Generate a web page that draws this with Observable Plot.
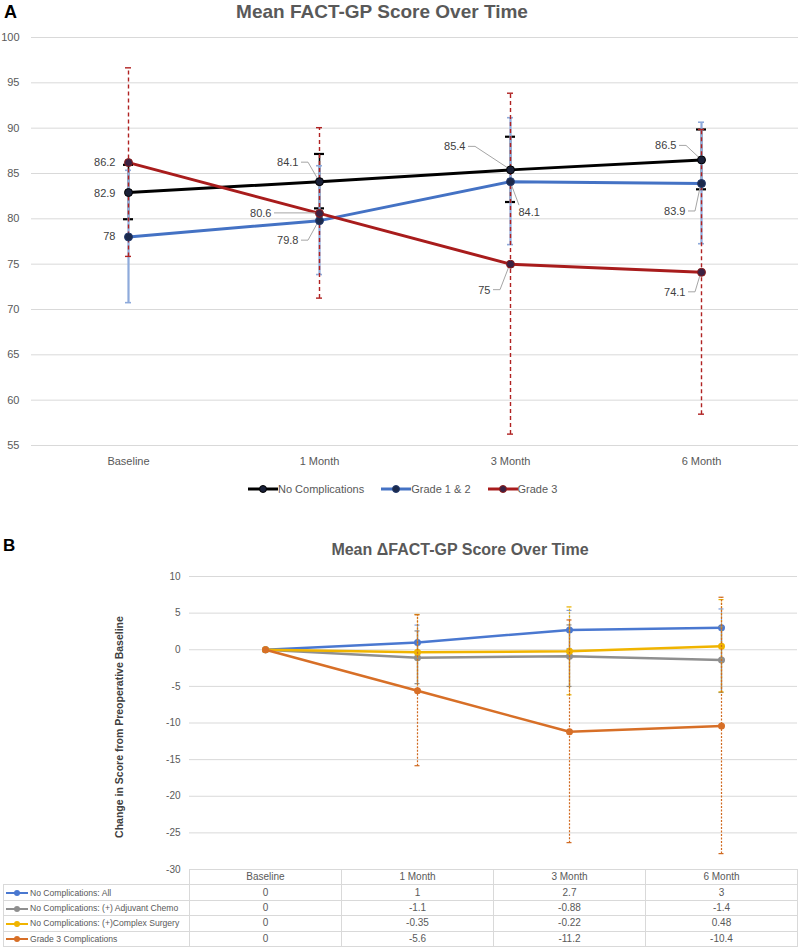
<!DOCTYPE html>
<html><head><meta charset="utf-8">
<script src="https://cdn.jsdelivr.net/npm/d3@7"></script>
<script src="https://cdn.jsdelivr.net/npm/@observablehq/plot@0.6"></script>
<style>
body{margin:0;background:#fff;font-family:"Liberation Sans",Arial,sans-serif;}
#page{position:relative;width:800px;height:950px;overflow:hidden;background:#fff;}
.abs{position:absolute;}
.panel{font-weight:bold;color:#000;}
.title{font-weight:bold;color:#595959;text-align:center;white-space:nowrap;}
#legendA{display:flex;align-items:center;font-size:11px;color:#595959;white-space:nowrap;}
#legendA .item{display:flex;align-items:center;margin-right:17px;}
#tableB{border-collapse:collapse;table-layout:fixed;width:794px;font-size:10px;color:#595959;}
#tableB td{border:1px solid #d9d9d9;height:14.4px;line-height:14px;padding:0;text-align:center;white-space:nowrap;overflow:hidden;}
#tableB td.lg{text-align:left;padding-left:2px;font-size:8.6px;}
#tableB td.blank{border:none;}
</style></head><body><div id="page"></div>
<script>
// ---------- DATA ----------
const times = ["Baseline", "1 Month", "3 Month", "6 Month"];

// Panel A: Mean FACT-GP score (mean and error half-width)
const seriesA = ["No Complications", "Grade 1 & 2", "Grade 3"];
const meanNoComplications = [82.9, 84.1, 85.4, 86.5];
const errNoComplications  = [3.0, 3.0, 3.6, 3.3];
const meanGrade12 = [78, 79.8, 84.1, 83.9];
const errGrade12  = [7.3, 6.0, 7.0, 6.7];
const meanGrade3  = [86.2, 80.6, 75, 74.1];
const errGrade3   = [10.4, 9.4, 18.8, 15.7];
const ticksA = [55, 60, 65, 70, 75, 80, 85, 90, 95, 100];

// Panel B: Mean change in FACT-GP from baseline
const seriesB = ["No Complications: All", "No Complications: (+) Adjuvant Chemo", "No Complications: (+)Complex Surgery", "Grade 3 Complications"];
const deltaAll     = [0, 1, 2.7, 3];
const errAll       = [0, 2.3, 2.6, 2.5];
const deltaChemo   = [0, -1.1, -0.88, -1.4];
const errChemo     = [0, 3.6, 4.2, 4.5];
const deltaComplex = [0, -0.35, -0.22, 0.48];
const errComplex   = [0, 5.1, 6.0, 6.3];
const deltaGrade3  = [0, -5.6, -11.2, -10.4];
const errGrade3B   = [0, 10.3, 15.2, 17.5];
const ticksB = [-30, -25, -20, -15, -10, -5, 0, 5, 10];

// ---------- STYLES / LAYOUT ----------
const meansA = [meanNoComplications, meanGrade12, meanGrade3];
const errsA = [errNoComplications, errGrade12, errGrade3];
const styleA = [
  {line: "#000000", err: "#000000", errWidth: 1.6, dash: null, cap: 5, capWidth: 2.2, dotFill: "#1a2138", dotStroke: "#000000"},
  {line: "#4472c4", err: "#8eaadb", errWidth: 2.2, dash: null, cap: 3, capWidth: 1.6, dotFill: "#1c2a4c", dotStroke: "#233a6e"},
  {line: "#a81c1c", err: "#b02222", errWidth: 1.4, dash: "4,3", cap: 3, capWidth: 1.4, dotFill: "#3b2142", dotStroke: "#8e1a1a"}
];
const labelLayoutA = [
  {s: 0, t: 0, dx: -13, dy: 1,   anchor: "end",   leader: false},
  {s: 1, t: 0, dx: -13, dy: 0,   anchor: "end",   leader: false},
  {s: 2, t: 0, dx: -13, dy: 0,   anchor: "end",   leader: false},
  {s: 0, t: 1, dx: -21, dy: -19, anchor: "end",   leader: true},
  {s: 2, t: 1, dx: -48, dy: 0,   anchor: "end",   leader: true},
  {s: 1, t: 1, dx: -21, dy: 20,  anchor: "end",   leader: true},
  {s: 0, t: 2, dx: -45, dy: -23, anchor: "end",   leader: true},
  {s: 1, t: 2, dx: 8,   dy: 31,  anchor: "start", leader: true},
  {s: 2, t: 2, dx: -20, dy: 26,  anchor: "end",   leader: true},
  {s: 0, t: 3, dx: -25, dy: -14, anchor: "end",   leader: true},
  {s: 1, t: 3, dx: -16, dy: 28,  anchor: "end",   leader: true},
  {s: 2, t: 3, dx: -16, dy: 20,  anchor: "end",   leader: true}
];
const meansB = [deltaAll, deltaChemo, deltaComplex, deltaGrade3];
const errsB = [errAll, errChemo, errComplex, errGrade3B];
const styleB = [
  {line: "#4a78d0", err: "#7f9fdc", dash: "2,1.5", errWidth: 1.2},
  {line: "#8f8f8f", err: "#8a8a8a", dash: null, errWidth: 1.4},
  {line: "#f0b400", err: "#e8b000", dash: "2,1.5", errWidth: 1.2},
  {line: "#d76f27", err: "#d0691f", dash: "2,1.5", errWidth: 1.2}
];

const page = document.getElementById("page");
function addDiv(cls, css, html) {
  const d = document.createElement("div");
  d.className = "abs " + cls;
  Object.assign(d.style, css);
  d.innerHTML = html;
  page.appendChild(d);
  return d;
}

// Error-bar caps drawn through the plot's own x/y scales
function capsMark(rows, color, half, width) {
  return (index, scales) => {
    const g = d3.create("svg:g").attr("stroke", color).attr("stroke-width", width);
    for (const d of rows) {
      const px = scales.x(d.time);
      for (const v of [d.lo, d.hi]) {
        const py = scales.y(v);
        g.append("line").attr("x1", px - half).attr("x2", px + half).attr("y1", py).attr("y2", py);
      }
    }
    return g.node();
  };
}

// ---------- PANEL A ----------
addDiv("panel", {left: "4px", top: "0px", fontSize: "18px", lineHeight: "24px"}, "A");
addDiv("title", {left: "0px", top: "0px", width: "764px", fontSize: "19px", lineHeight: "24px"}, "Mean FACT-GP Score Over Time");

const rowsA = seriesA.map((name, si) => times.map((t, i) => ({series: name, time: t, value: meansA[si][i], err: errsA[si][i], lo: meansA[si][i] - errsA[si][i], hi: meansA[si][i] + errsA[si][i]})));
const labelsA = labelLayoutA.map(L => ({...L, time: times[L.t], value: meansA[L.s][L.t]}));

const leaderMark = (index, scales) => {
  const g = d3.create("svg:g").attr("fill", "none").attr("stroke", "#a5a5a5").attr("stroke-width", 1);
  for (const L of labelsA.filter(d => d.leader)) {
    const px = scales.x(L.time), py = scales.y(L.value);
    const lx = px + L.dx, ly = py + L.dy;
    const d = L.anchor === "end"
      ? `M${lx + 3},${ly}H${lx + 10}L${px},${py}`
      : `M${lx + 1},${ly - 7}L${px},${py}`;
    g.append("path").attr("d", d);
  }
  return g.node();
};

const marksA = [Plot.ruleY(ticksA, {stroke: "#d9d9d9", strokeWidth: 1})];
rowsA.forEach((rows, si) => {
  const st = styleA[si];
  marksA.push(Plot.line(rows, {x: "time", y: "value", stroke: st.line, strokeWidth: 3}));
});
rowsA.forEach((rows, si) => {
  const st = styleA[si];
  marksA.push(Plot.ruleX(rows, {x: "time", y1: "lo", y2: "hi", stroke: st.err, strokeWidth: st.errWidth, strokeDasharray: st.dash}));
  marksA.push(capsMark(rows, st.err, st.cap, st.capWidth));
});
marksA.push(leaderMark);
rowsA.forEach((rows, si) => {
  const st = styleA[si];
  marksA.push(Plot.dot(rows, {x: "time", y: "value", r: 4, fill: st.dotFill, stroke: st.dotStroke, strokeWidth: 1}));
});
labelsA.forEach(L => {
  marksA.push(Plot.text([L], {x: "time", y: "value", text: d => String(d.value), dx: L.dx, dy: L.dy, textAnchor: L.anchor, fill: "#404040", fontSize: 11}));
});

const plotA = Plot.plot({
  width: 800, height: 455,
  marginTop: 17, marginBottom: 30, marginLeft: 31, marginRight: 2,
  style: {fontFamily: '"Liberation Sans", Arial, sans-serif', fontSize: "11px", color: "#595959", background: "transparent", overflow: "visible"},
  x: {type: "point", domain: times, padding: 0.5, tickSize: 0, tickPadding: 12, label: null},
  y: {domain: [55, 100], ticks: ticksA, tickSize: 0, tickPadding: 12, label: null, tickFormat: d => String(d)},
  marks: marksA
});
plotA.style.position = "absolute"; plotA.style.left = "0px"; plotA.style.top = "20px";
page.appendChild(plotA);

// Legend A
const legA = addDiv("", {left: "248px", top: "481px", height: "16px"}, "");
legA.id = "legendA";
seriesA.forEach((name, si) => {
  const st = styleA[si];
  const it = document.createElement("div");
  it.className = "item";
  it.innerHTML = `<svg width="30" height="10"><line x1="0" x2="30" y1="5" y2="5" stroke="${st.line}" stroke-width="3"/><circle cx="15" cy="5" r="3.5" fill="${st.dotFill}" stroke="${st.dotStroke}"/></svg><span>${name}</span>`;
  legA.appendChild(it);
});

// ---------- PANEL B ----------
addDiv("panel", {left: "3px", top: "535px", fontSize: "17px", lineHeight: "22px"}, "B");
addDiv("title", {left: "160px", top: "539px", width: "600px", fontSize: "16px", lineHeight: "22px"}, "Mean \u0394FACT-GP Score Over Time");
addDiv("", {left: "119px", top: "727px", transform: "translate(-50%,-50%) rotate(-90deg)", whiteSpace: "nowrap", fontWeight: "bold", fontSize: "10.5px", color: "#404040"}, "Change in Score from Preoperative Baseline");

const rowsB = seriesB.map((name, si) => times.map((t, i) => ({series: name, time: t, value: meansB[si][i], err: errsB[si][i], lo: meansB[si][i] - errsB[si][i], hi: meansB[si][i] + errsB[si][i]})));
const marksB = [Plot.ruleY(ticksB, {stroke: "#d9d9d9", strokeWidth: 1})];
rowsB.forEach((rows, si) => {
  const st = styleB[si];
  const withErr = rows.filter(d => d.err > 0);
  marksB.push(Plot.line(rows, {x: "time", y: "value", stroke: st.line, strokeWidth: 2.5}));
  marksB.push(Plot.ruleX(withErr, {x: "time", y1: "lo", y2: "hi", stroke: st.err, strokeWidth: st.errWidth, strokeDasharray: st.dash}));
  marksB.push(capsMark(withErr, st.err, 2.5, 1.2));
  marksB.push(Plot.dot(rows, {x: "time", y: "value", r: 3.5, fill: st.line}));
});

const plotB = Plot.plot({
  width: 800, height: 312,
  marginTop: 16, marginBottom: 3, marginLeft: 189, marginRight: 3,
  style: {fontFamily: '"Liberation Sans", Arial, sans-serif', fontSize: "10px", color: "#595959", background: "transparent", overflow: "visible"},
  x: {type: "point", domain: times, padding: 0.5, axis: null},
  y: {domain: [-30, 10], ticks: ticksB, tickSize: 0, tickPadding: 9, label: null, tickFormat: d => String(d)},
  marks: marksB
});
plotB.style.position = "absolute"; plotB.style.left = "0px"; plotB.style.top = "560px";
page.appendChild(plotB);

// Data table B
const tbl = document.createElement("table");
tbl.id = "tableB";
tbl.style.position = "absolute"; tbl.style.left = "3px"; tbl.style.top = "869px";
const cg = document.createElement("colgroup");
[186, 152, 152, 152, 152].forEach(w => { const c = document.createElement("col"); c.style.width = w + "px"; cg.appendChild(c); });
tbl.appendChild(cg);
const hr = document.createElement("tr");
hr.innerHTML = `<td class="blank"></td>` + times.map(t => `<td>${t}</td>`).join("");
tbl.appendChild(hr);
seriesB.forEach((name, si) => {
  const st = styleB[si];
  const tr = document.createElement("tr");
  tr.innerHTML = `<td class="lg"><svg width="23" height="8" style="vertical-align:middle;margin-right:1px"><line x1="0" x2="22" y1="4" y2="4" stroke="${st.line}" stroke-width="2"/><circle cx="11" cy="4" r="3" fill="${st.line}"/></svg>${name}</td>` +
    meansB[si].map(v => `<td>${String(v)}</td>`).join("");
  tbl.appendChild(tr);
});
page.appendChild(tbl);
</script></body></html>
